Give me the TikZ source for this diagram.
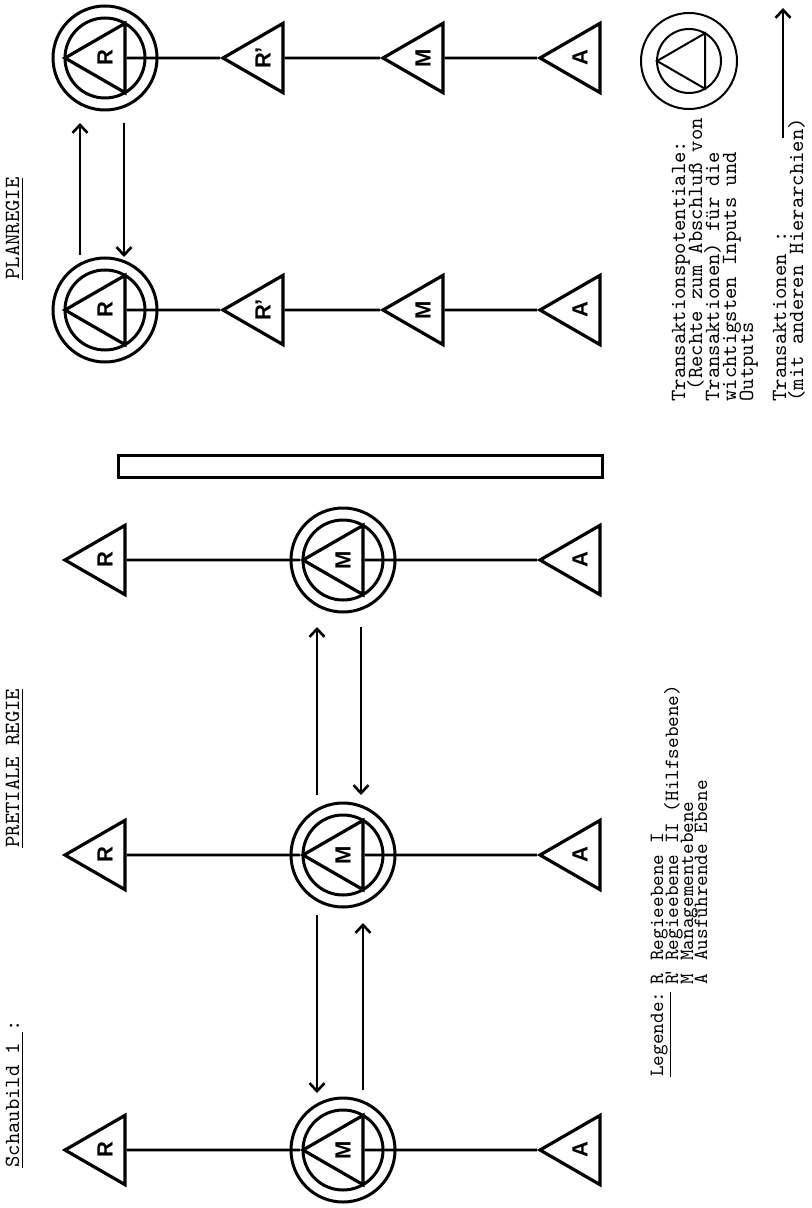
\documentclass[tikz,border=0pt]{standalone}
\usepackage{fontspec}
\setsansfont{Liberation Sans}
\usepackage{graphicx}
\usetikzlibrary{arrows.meta, shapes.geometric}

\tikzset{
  tri/.style={regular polygon, regular polygon sides=3, shape border rotate=90, draw,
    line width=1.6pt, minimum size=40pt, inner sep=0pt,
    font=\sffamily\bfseries\fontsize{11}{11}\selectfont},
  ring/.style={circle, draw, line width=1.5pt, inner sep=0pt},
  link/.style={line width=1.4pt},
  trans/.style={-{Straight Barb[length=4pt,width=7.5pt]}, line width=1.3pt},
  typed/.style={rotate=90, anchor=base west, inner sep=0pt,
    font=\ttfamily\fontsize{10.8}{10.8}\selectfont},
  key/.style={typed, font=\ttfamily\fontsize{10.1}{10.1}\selectfont},
}

\begin{document}
\begin{tikzpicture}[x=0.5pt, y=-0.5pt]
\useasboundingbox (0,0) rectangle (811,1208);

% pretiale regie
\foreach \i/\y in {1/1150, 2/855, 3/560} {
  \node[tri] (r\i) at (105,\y) {\rotatebox{90}{R}};
  \node[tri] (m\i) at (343,\y) {\rotatebox{90}{M}};
  \node[tri] (a\i) at (580,\y) {\rotatebox{90}{A}};
  \node[ring, minimum size=40pt] (mi\i) at (m\i) {};
  \node[ring, minimum size=52pt] (mo\i) at (m\i) {};
  \draw[link] (r\i.east) -- (m\i.west);
  \draw[link] (m\i.east) -- (a\i.west);
}
\draw[trans] ([shift={(-26,60)}]m2.center) -- ([shift={(-26,-57)}]m1.center);
\draw[trans] ([shift={(20,-60)}]m1.center) -- ([shift={(20,68)}]m2.center);
\draw[trans] ([shift={(-26,-60)}]m2.center) -- ([shift={(-26,67)}]m3.center);
\draw[trans] ([shift={(18,67)}]m3.center) -- ([shift={(18,-60)}]m2.center);

% trennbalken
\draw[line width=1.5pt] (118,455) rectangle (602,477);

% planregie
\foreach \j/\y in {1/310, 2/58} {
  \node[tri] (pr\j) at (105,\y) {\rotatebox{90}{R}};
  \node[ring, minimum size=40pt] (pri\j) at (pr\j) {};
  \node[ring, minimum size=52pt] (pro\j) at (pr\j) {};
  \node[tri] (pq\j) at (263,\y) {\rotatebox{90}{R'}};
  \node[tri] (pm\j) at (423,\y) {\rotatebox{90}{M}};
  \node[tri] (pa\j) at (580,\y) {\rotatebox{90}{A}};
  \draw[link] (pr\j.east) -- (pq\j.west);
  \draw[link] (pq\j.east) -- (pm\j.west);
  \draw[link] (pm\j.east) -- (pa\j.west);
}
\draw[trans] ([shift={(-25,-55)}]pr1.center) -- ([shift={(-25,65)}]pr2.center);
\draw[trans] ([shift={(19,65)}]pr2.center) -- ([shift={(19,-53)}]pr1.center);

% ueberschriften
\node[typed] (h1) at (19,1168) {\underline{Schaubild 1\ }:};
\node[typed] (h2) at (19,848) {\underline{PRETIALE REGIE}};
\node[typed] (h3) at (19,280) {\underline{PLANREGIE}};

% legende
\node[key] (leg) at (663,1077) {\underline{Legende:}};
\foreach \k/\x/\s/\t in {1/663/R/Regieebene I, 2/678/R\kern-0.2em'/Regieebene II (Hilfsebene),
    3/693/M/Managementebene, 4/707/A/Ausführende Ebene} {
  \node[key] (k\k) at (\x,985) {\s};
  \node[key] (d\k) at (\x,961) {\t};
}

% zeichenerklaerung rechts
\node[tri, line width=1pt, minimum size=32pt] (sym) at (689,61) {};
\node[ring, line width=1pt, minimum size=32pt] (symi) at (sym) {};
\node[ring, line width=1pt, minimum size=48pt] (symo) at (sym) {};
\foreach \k/\x/\t in {1/685/Transaktionspotentiale:, 2/702/\hphantom{x}(Rechte zum Abschluß von,
    3/719/Transaktionen) für die, 4/736/wichtigsten Inputs und, 5/753/Outputs,
    6/786/Transaktionen :, 7/803/(mit anderen Hierarchien)} {
  \node[typed] (tx\k) at (\x,402) {\t};
}
\coordinate (tt) at (783,138);
\coordinate (th) at (783,8);
\draw[trans] (tt) -- (th);
\end{tikzpicture}
\end{document}
